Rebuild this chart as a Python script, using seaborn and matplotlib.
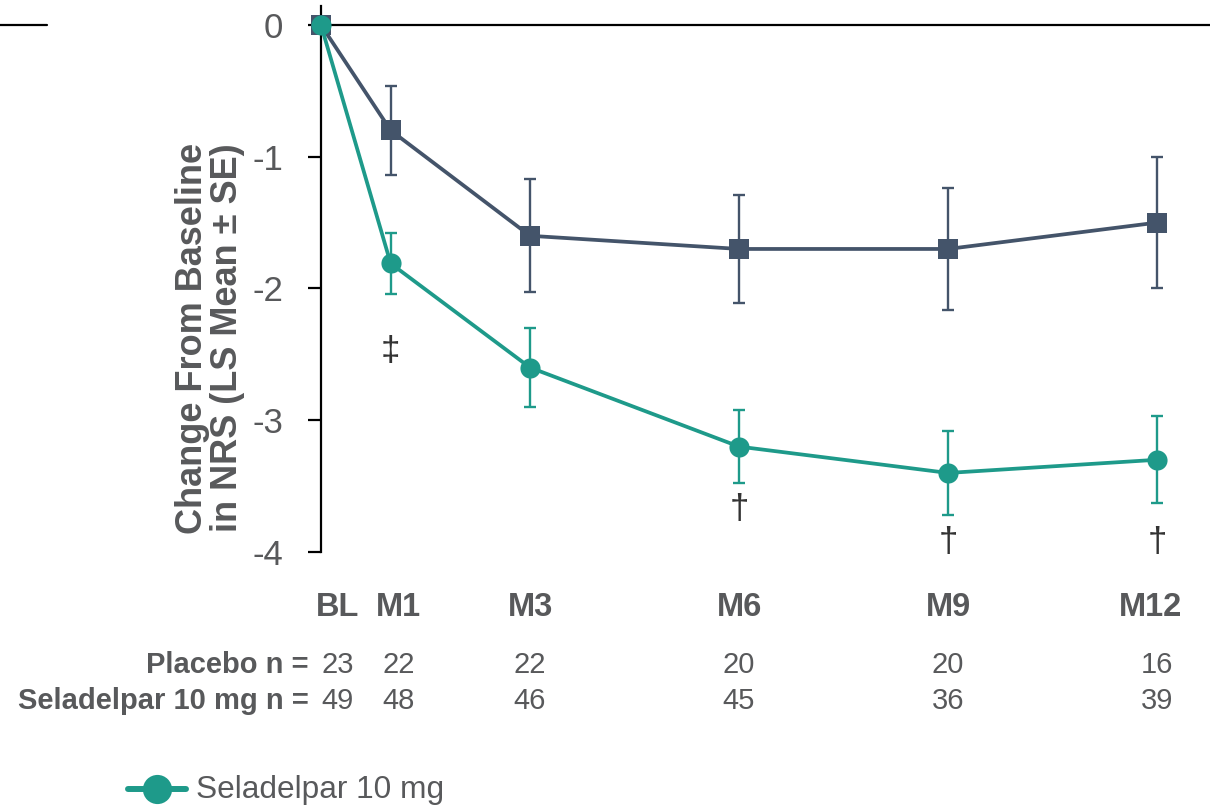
import matplotlib
matplotlib.use("Agg")
import matplotlib.pyplot as plt
import matplotlib.transforms as mtransforms
from matplotlib.lines import Line2D
import seaborn as sns
import pandas as pd

# ---- data ----
months = [0, 1, 3, 6, 9, 12]
tick_labels = ["BL", "M1", "M3", "M6", "M9", "M12"]
placebo_mean = [0.0, -0.80, -1.60, -1.70, -1.70, -1.50]
placebo_se = [0.0, 0.34, 0.43, 0.41, 0.46, 0.50]
selad_mean = [0.0, -1.81, -2.60, -3.20, -3.40, -3.30]
selad_se = [0.0, 0.23, 0.30, 0.28, 0.32, 0.33]
placebo_n = ["23", "22", "22", "20", "20", "16"]
selad_n = ["49", "48", "46", "45", "36", "39"]
sig_marks = ["", "‡", "", "†", "†", "†"]
sig_y = [None, -2.48, None, -3.68, -3.93, -3.93]
y_ticks = [0, -1, -2, -3, -4]
y_tick_labels = ["0", "-1", "-2", "-3", "-4"]

NAVY = "#44546a"
TEAL = "#1e9a8a"
GRAY = "#58595b"

sns.set_theme(style="white")
plt.rcParams["font.family"] = ["Liberation Sans", "DejaVu Sans"]

fig = plt.figure(figsize=(12.10, 8.09), dpi=100)
ax = fig.add_axes([321 / 1210, (809 - 552) / 809, 1 - 321 / 1210, (552 - 6) / 809])

df = pd.DataFrame({
    "month": months * 2,
    "value": placebo_mean + selad_mean,
    "group": ["Placebo"] * 6 + ["Seladelpar 10 mg"] * 6,
})

# error bars
ax.errorbar(months[1:], placebo_mean[1:], yerr=placebo_se[1:], fmt="none",
            ecolor=NAVY, elinewidth=1.7, capsize=4, capthick=1.7, zorder=2)
ax.errorbar(months[1:], selad_mean[1:], yerr=selad_se[1:], fmt="none",
            ecolor=TEAL, elinewidth=1.7, capsize=4, capthick=1.7, zorder=4)

sns.lineplot(data=df, x="month", y="value", hue="group", style="group",
             palette={"Placebo": NAVY, "Seladelpar 10 mg": TEAL},
             markers={"Placebo": "s", "Seladelpar 10 mg": "o"}, dashes=False,
             markersize=14.5, linewidth=2.7, markeredgewidth=0, legend=False, ax=ax)
for ln in ax.lines:
    ln.set_clip_on(False)
    ln.set_zorder(3 if ln.get_color() == NAVY else 5)

ax.axhline(0, color="black", linewidth=1.6, zorder=1, clip_on=False)

ax.set_xlim(0, (1210 - 321) / 69.67)
ax.set_ylim(-4, 0.144)
ax.set_yticks(y_ticks)
ax.set_yticklabels(y_tick_labels)
ax.set_xticks([])
ax.tick_params(axis="y", direction="out", length=9.4, width=1.6, color="black",
               labelsize=25, labelcolor=GRAY, pad=18, left=True)
for s in ["top", "right", "bottom"]:
    ax.spines[s].set_visible(False)
ax.spines["left"].set_color("black")
ax.spines["left"].set_linewidth(1.6)
ax.set_xlabel("")
ax.set_ylabel("")

fig.text(210 / 1210, 1 - 338 / 809, "Change From Baseline\nin NRS (LS Mean ± SE)",
         rotation=90, ha="center", va="center", fontsize=26, fontweight="bold",
         color=GRAY, linespacing=1.0, multialignment="center")

# significance marks
for m, s, yv in zip(months, sig_marks, sig_y):
    if s:
        ax.text(m, yv, s, ha="center", va="center", fontsize=25, color="#333333")

# x labels and n table
label_x = [0.24, 1.11, 3, 6, 9, 11.9]
trans = mtransforms.blended_transform_factory(ax.transData, fig.transFigure)
for lx, t, pn, sn in zip(label_x, tick_labels, placebo_n, selad_n):
    ax.text(lx, 1 - 608 / 809, t, transform=trans, ha="center", va="center",
            fontsize=23.5, fontweight="bold", color=GRAY, clip_on=False)
for lx, pn, sn in zip([0.24, 1.11, 3, 6, 9, 12], placebo_n, selad_n):
    ax.text(lx, 1 - 665 / 809, pn, transform=trans, ha="center", va="center",
            fontsize=21, color=GRAY, clip_on=False)
    ax.text(lx, 1 - 701 / 809, sn, transform=trans, ha="center", va="center",
            fontsize=21, color=GRAY, clip_on=False)
fig.text(309 / 1210, 1 - 665 / 809, "Placebo n =", ha="right", va="center",
         fontsize=21, fontweight="bold", color=GRAY)
fig.text(309 / 1210, 1 - 701 / 809, "Seladelpar 10 mg n =", ha="right", va="center",
         fontsize=21, fontweight="bold", color=GRAY)

# legend (partially visible)
fig.add_artist(Line2D([128 / 1210, 186 / 1210], [1 - 789 / 809] * 2, color=TEAL,
                      linewidth=4.3, transform=fig.transFigure))
fig.add_artist(Line2D([157 / 1210], [1 - 789 / 809], marker="o", markersize=21,
                      color=TEAL, markeredgewidth=0, transform=fig.transFigure))
fig.text(196 / 1210, 1 - 790 / 809, "Seladelpar 10 mg", ha="left", va="center",
         fontsize=22.8, color=GRAY)

# stray black line at top-left
fig.add_artist(Line2D([0, 47 / 1210], [1 - 25 / 809] * 2, color="black",
                      linewidth=1.6, transform=fig.transFigure))

fig.savefig("out.png", dpi=100)
